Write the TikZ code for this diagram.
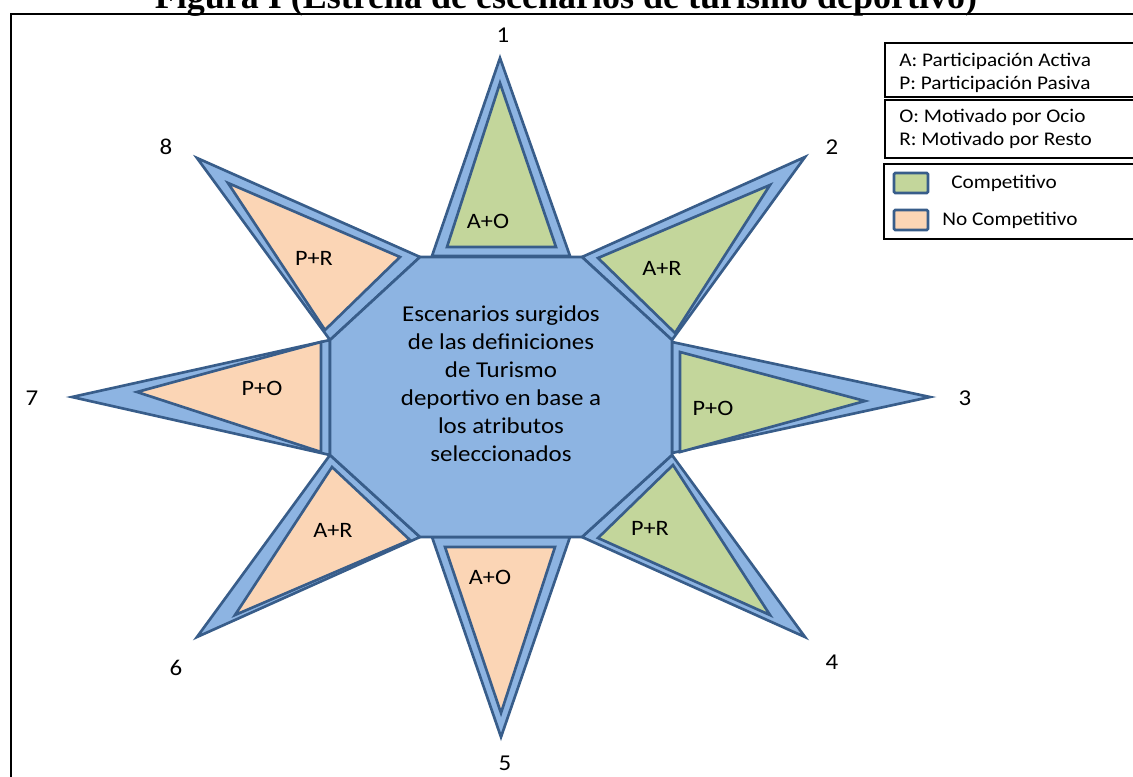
\documentclass[tikz,border=0pt]{standalone}
\usepackage{fontspec}
\setmainfont{Carlito}[FakeStretch=1.1]
\newfontfamily\titlefont{Liberation Serif}
\usepackage{tikz}
\usetikzlibrary{positioning}
\definecolor{lblue}{RGB}{141,180,226}
\definecolor{dblue}{RGB}{56,93,138}
\definecolor{lgreen}{RGB}{195,214,155}
\definecolor{lpeach}{RGB}{251,213,181}
\tikzstyle{spike} = [draw=dblue, line width=2pt, fill=lblue, line join=miter]
\tikzstyle{comp} = [draw=dblue, line width=2pt, fill=lgreen]
\tikzstyle{nocomp} = [draw=dblue, line width=2pt, fill=lpeach]
\tikzstyle{num} = [font=\fontsize{17}{20}\selectfont, inner sep=0pt]
\tikzstyle{tag} = [font=\fontsize{16.5}{19}\selectfont, inner sep=0pt]
\tikzstyle{leg} = [font=\fontsize{14.5}{17}\selectfont, inner sep=0pt, anchor=west]

\begin{document}
\begin{tikzpicture}[x=0.75pt, y=-0.75pt]
  \useasboundingbox (0,0) rectangle (1133,776);
  \clip (0,0) rectangle (1133,776);

  % title and frame
  \node [font=\titlefont\bfseries\fontsize{27}{32}\selectfont, anchor=base, inner sep=0pt] (title) at (566,8) {Figura I (Estrella de escenarios de turismo deportivo)};
  \draw [line width=2pt] (11,14) rectangle (1150,800);

  % spikes
  \draw [spike] (500,58) -- (432,256) -- (570,256) -- cycle;
  \draw [comp] (500,83) -- (447,247) -- (556,247) -- cycle;

  \draw [spike] (805,157) -- (582,257) -- (672,340) -- cycle;
  \draw [comp] (770,185) -- (598,258) -- (675,333) -- cycle;

  \draw [spike] (930,397) -- (672,342) -- (672,453) -- cycle;
  \draw [comp] (865,401) -- (680,352) -- (680,452) -- cycle;

  \draw [spike] (805,637) -- (672,455) -- (582,537) -- cycle;
  \draw [comp] (770,615) -- (673,465) -- (598,538) -- cycle;

  \draw [spike] (501,737) -- (432,537) -- (570,537) -- cycle;
  \draw [nocomp] (501,713) -- (445,547) -- (555,547) -- cycle;

  \draw [spike] (197,637) -- (330,455) -- (420,537) -- cycle;
  \draw [nocomp] (235,615) -- (332,467) -- (410,540) -- cycle;

  \draw [spike] (72,397) -- (330,340) -- (330,455) -- cycle;
  \draw [nocomp] (137,392) -- (321,342) -- (321,452) -- cycle;

  \draw [spike] (197,158) -- (420,257) -- (330,340) -- cycle;
  \draw [nocomp] (228,183) -- (400,257) -- (325,330) -- cycle;

  % octagon
  \draw [spike] (420,257) -- (582,257) -- (672,340) -- (672,455) -- (582,537)
    -- (420,537) -- (330,455) -- (330,340) -- cycle;
  \node [align=center, font=\fontsize{17}{21}\selectfont] (c) at (501,384)
    {Escenarios surgidos\\de las definiciones\\de Turismo\\deportivo en base a\\los atributos\\seleccionados};

  % spike labels
  \node [tag] (t1) at (488,221) {A+O};
  \node [tag] (t2) at (662,268) {A+R};
  \node [tag] (t3) at (713,408) {P+O};
  \node [tag] (t4) at (650,528) {P+R};
  \node [tag] (t5) at (490,577) {A+O};
  \node [tag] (t6) at (333,530) {A+R};
  \node [tag] (t7) at (262,388) {P+O};
  \node [tag] (t8) at (314,258) {P+R};

  % numbers
  \node [num] (n1) at (503,35) {1};
  \node [num] (n2) at (832,147) {2};
  \node [num] (n3) at (965,398) {3};
  \node [num] (n4) at (832,662) {4};
  \node [num] (n5) at (505,763) {5};
  \node [num] (n6) at (176,668) {6};
  \node [num] (n7) at (32,398) {7};
  \node [num] (n8) at (166,147) {8};

  % legend
  \draw [line width=0.9pt] (885,43) rectangle (1150,97);
  \draw [line width=0.9pt] (885,100) rectangle (1150,158);
  \draw [line width=2pt] (884,164) rectangle (1150,239);
  \node [leg] (l1) at (899,61) {A: Participación Activa};
  \node [leg] (l2) at (899,84) {P: Participación Pasiva};
  \node [leg] (l3) at (899,117) {O: Motivado por Ocio};
  \node [leg] (l4) at (899,140) {R: Motivado por Resto};
  \draw [comp, rounded corners=1pt] (894,173) rectangle (928,193);
  \draw [nocomp, rounded corners=1pt] (894,210) rectangle (928,230);
  \node [leg] (l5) at (951,183) {Competitivo};
  \node [leg] (l6) at (942,220) {No Competitivo};
\end{tikzpicture}
\end{document}
